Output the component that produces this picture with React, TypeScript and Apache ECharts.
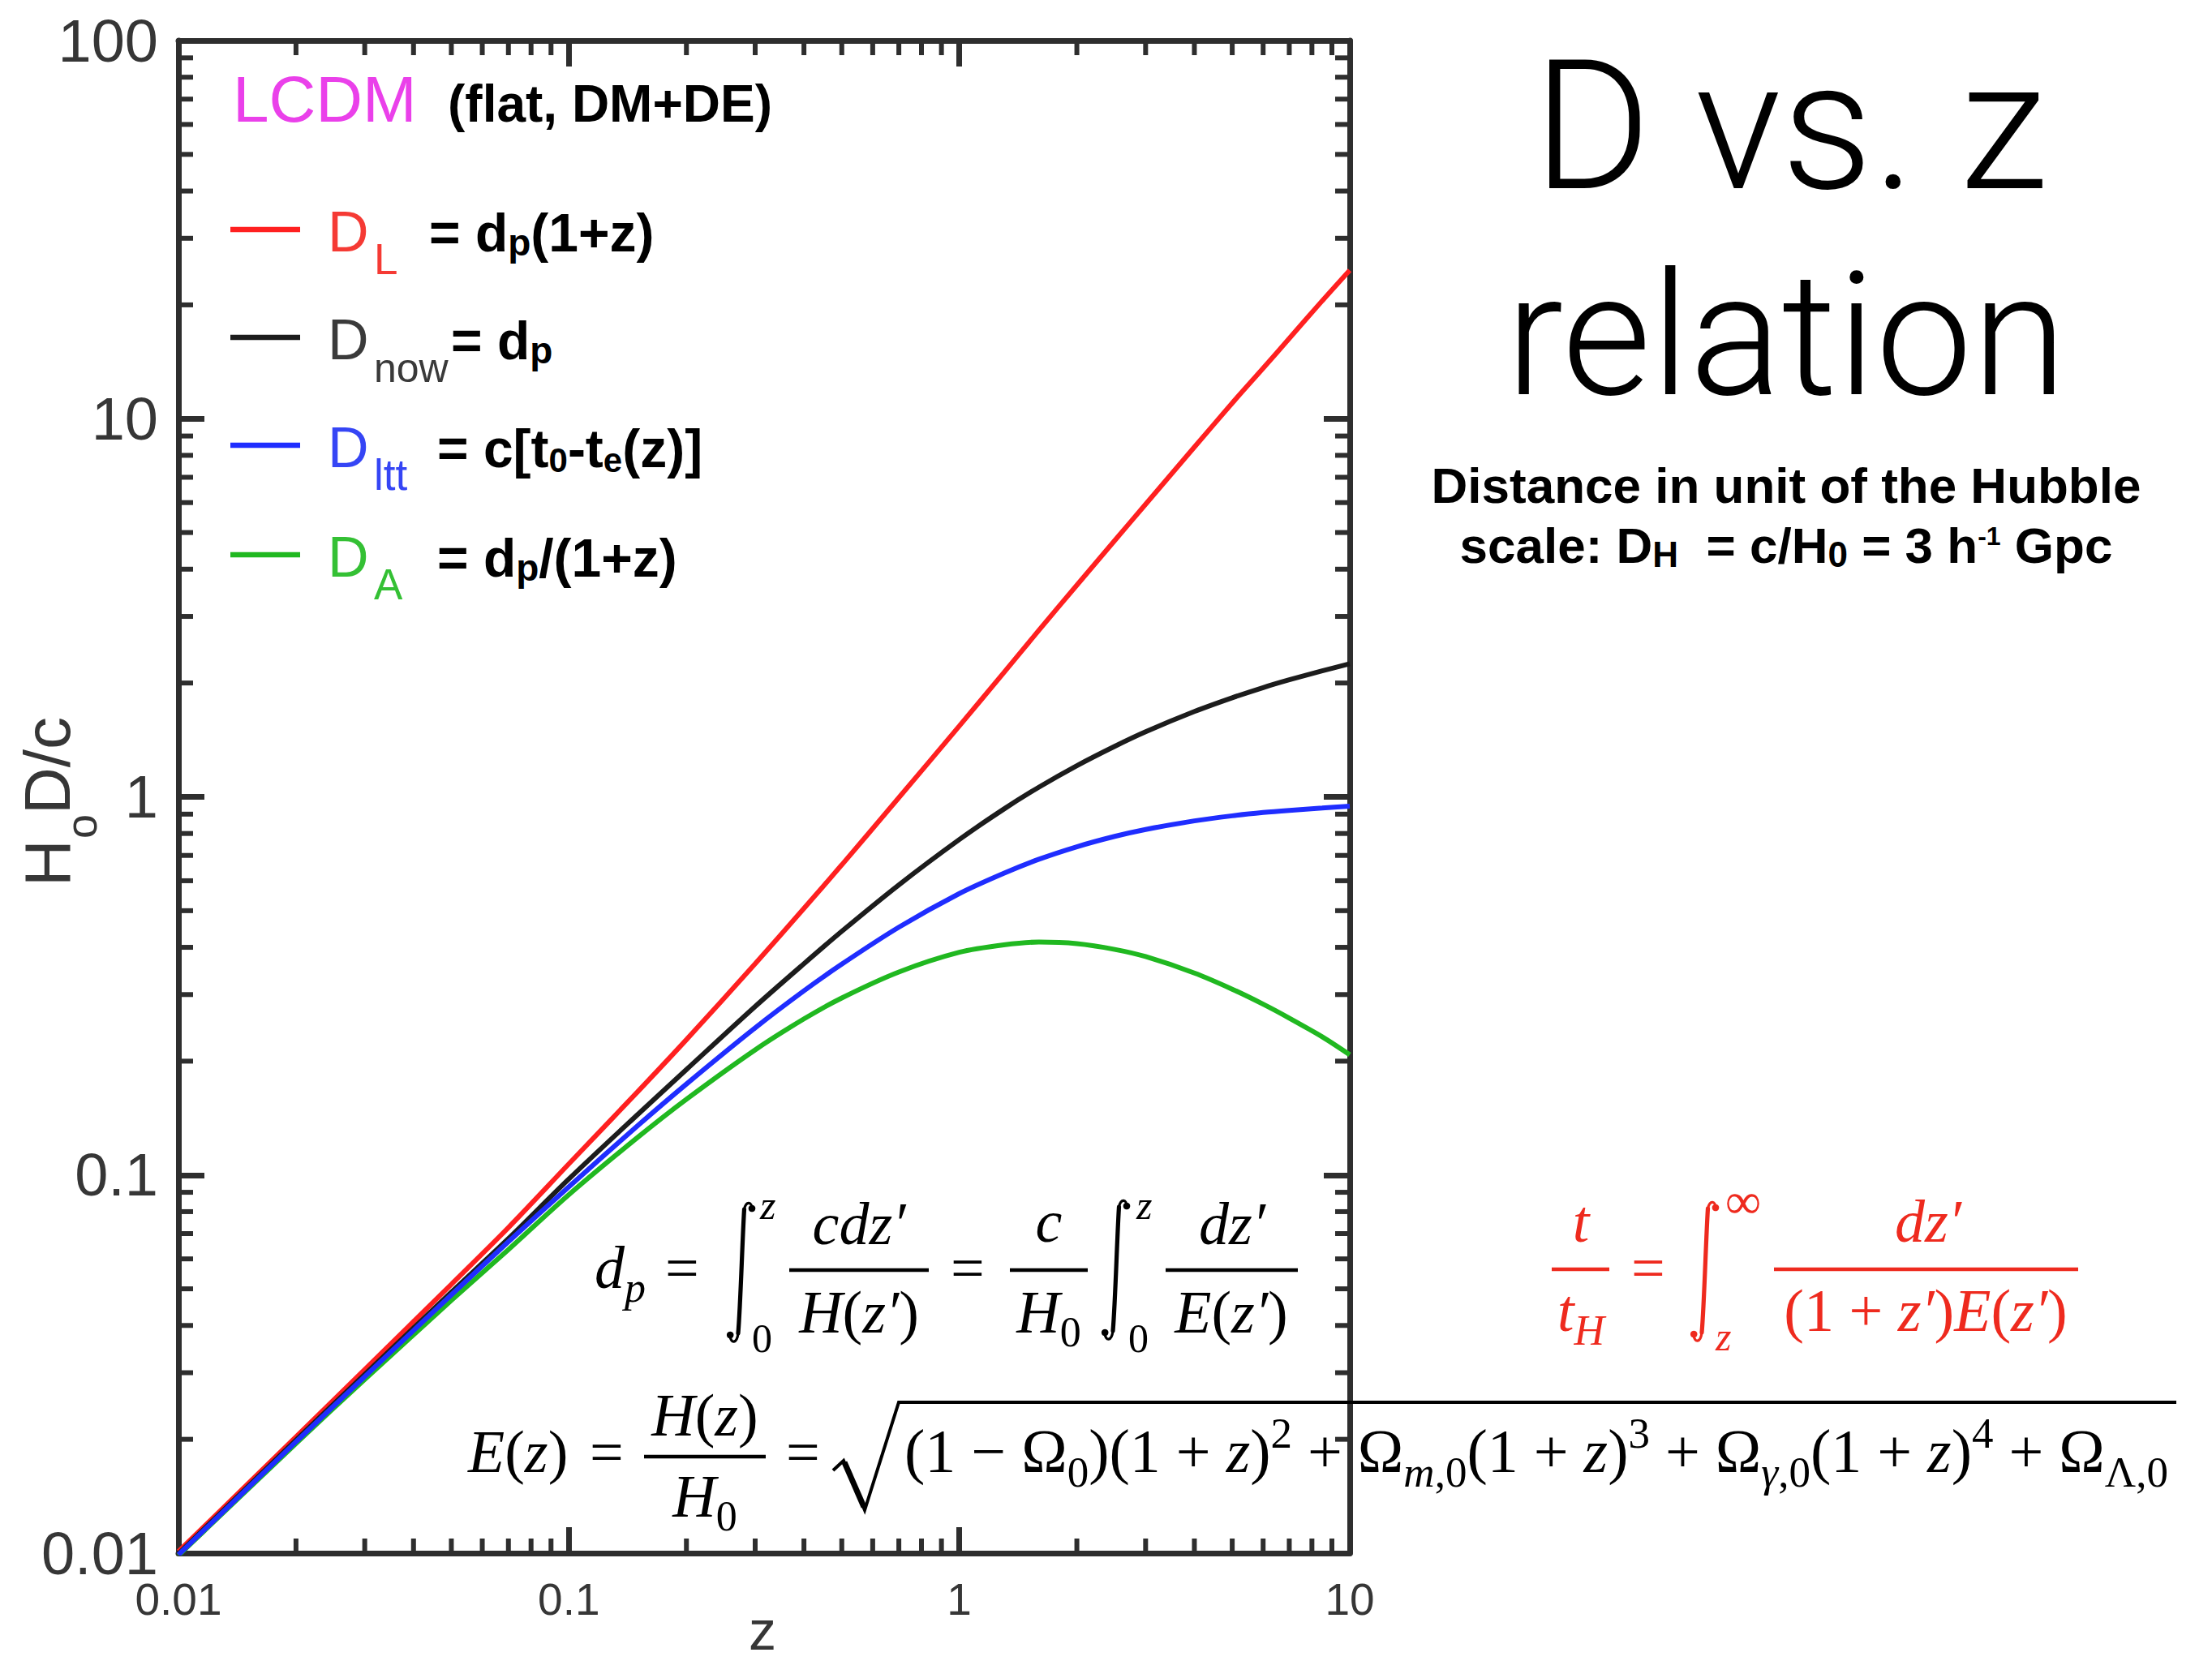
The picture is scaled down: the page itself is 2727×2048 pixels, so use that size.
import React, { useEffect, useRef } from 'react';
import * as echarts from 'echarts';

// ---------- data ----------
const zValues = [0.01, 0.02, 0.03, 0.05, 0.07, 0.1, 0.15, 0.2, 0.3, 0.4, 0.5, 0.7, 1, 1.3, 1.6, 2, 2.5, 3, 4, 5, 6, 7, 8.5, 10];
const dLum = [0.0101, 0.0203, 0.0306, 0.0514, 0.0726, 0.107, 0.166, 0.228, 0.362, 0.507, 0.661, 0.995, 1.54, 2.13, 2.76, 3.63, 4.76, 5.94, 8.41, 11.0, 13.6, 16.3, 20.5, 24.7];
const dNow = [0.00996, 0.0199, 0.0297, 0.049, 0.0679, 0.0976, 0.1445, 0.19, 0.279, 0.362, 0.441, 0.585, 0.771, 0.928, 1.061, 1.209, 1.36, 1.486, 1.681, 1.828, 1.945, 2.039, 2.154, 2.249];
const dLtt = [0.0099, 0.0197, 0.0293, 0.0482, 0.0666, 0.0931, 0.135, 0.174, 0.245, 0.307, 0.361, 0.452, 0.555, 0.628, 0.684, 0.738, 0.786, 0.82, 0.864, 0.891, 0.909, 0.921, 0.934, 0.945];
const dAng = [0.00986, 0.0195, 0.0288, 0.0466, 0.0635, 0.0887, 0.1257, 0.1586, 0.2143, 0.2587, 0.2939, 0.3442, 0.388, 0.406, 0.413, 0.409, 0.395, 0.378, 0.342, 0.31, 0.283, 0.26, 0.232, 0.208];

const xTickLabels = ['0.01', '0.1', '1', '10'];
const yTickLabels = ['0.01', '0.1', '1', '10', '100'];
const xMinorTicks = [0.02, 0.03, 0.04, 0.05, 0.06, 0.07, 0.08, 0.09, 0.2, 0.3, 0.4, 0.5, 0.6, 0.7, 0.8, 0.9, 2, 3, 4, 5, 6, 7, 8, 9];
const yMinorTicks = [0.02, 0.03, 0.04, 0.05, 0.06, 0.07, 0.08, 0.09, 0.2, 0.3, 0.4, 0.5, 0.6, 0.7, 0.8, 0.9, 2, 3, 4, 5, 6, 7, 8, 9, 20, 30, 40, 50, 60, 70, 80, 90];
const X_MIN = 0.01, X_MAX = 10, Y_MIN = 0.01, Y_MAX = 100;

const seriesColors = { L: '#ff2020', now: '#1c1c1c', ltt: '#1f2dff', A: '#20b820' };

// ---------- styling helpers ----------
const SANS = '"Liberation Sans", Arial, Helvetica, sans-serif';
const SERIF = '"Liberation Serif", "Times New Roman", Times, serif';
const AX = '#2e2e2e';
const LBL = '#363636';

function T(text: string, x: number, base: number, size: number, o: any = {}) {
  const fam = o.family || SANS;
  const k = fam === SERIF ? 0.34 : 0.35;
  return {
    type: 'text', x, y: base - k * size, silent: true, z: 100,
    style: {
      text, fontSize: size, fontFamily: fam, fontWeight: o.weight || 'normal',
      fontStyle: o.italic ? 'italic' : 'normal', fill: o.color || '#000',
      align: o.align || 'left', verticalAlign: 'middle',
    },
  };
}

function mathRich(c: string, F: number) {
  const S = Math.round(F * 0.7);
  const sub = 0.34 * (F - S) + 0.235 * F;
  const sup = 0.39 * F - 0.34 * (F - S);
  const b = { fontFamily: SERIF, fill: c, lineHeight: 160 };
  return {
    n: { ...b, fontSize: F },
    i: { ...b, fontSize: F, fontStyle: 'italic' },
    sb: { ...b, fontSize: S, padding: [2 * sub, 0, 0, 0] },
    sbi: { ...b, fontSize: S, fontStyle: 'italic', padding: [2 * sub, 0, 0, 0] },
    sp: { ...b, fontSize: S, padding: [0, 0, 2 * sup, 0] },
  };
}

function R(text: string, x: number, base: number, rich: any, F: number, align = 'left', k = 0.34) {
  return {
    type: 'text', x, y: base - k * F, silent: true, z: 100,
    style: { text, rich, align, verticalAlign: 'middle', lineHeight: 160, fontSize: F, fontFamily: SERIF },
  };
}

function bar(x1: number, x2: number, y: number, c: string) {
  return { type: 'line', silent: true, z: 100, shape: { x1, y1: y, x2, y2: y }, style: { stroke: c, lineWidth: 4.5 } };
}

function integral(x: number, y: number, c: string) {
  const st = (w: number) => ({ stroke: c, lineWidth: w, fill: null, lineCap: 'round' });
  return {
    type: 'group', x, y, silent: true, z: 100,
    children: [
      { type: 'bezierCurve', shape: { x1: 31, y1: 9, cpx1: 31, cpy1: 1, cpx2: 24, cpy2: -1, x2: 21.5, y2: 10 }, style: st(3.2) },
      { type: 'bezierCurve', shape: { x1: 21.5, y1: 10, cpx1: 19, cpy1: 50, cpx2: 17, cpy2: 128, x2: 14, y2: 163 }, style: st(5.2) },
      { type: 'bezierCurve', shape: { x1: 14, y1: 163, cpx1: 12.5, cpy1: 176, cpx2: 5, cpy2: 176, x2: 4, y2: 166 }, style: st(3.2) },
      { type: 'circle', shape: { cx: 31, cy: 9, r: 4.3 }, style: { fill: c } },
      { type: 'circle', shape: { cx: 4.2, cy: 165, r: 4.3 }, style: { fill: c } },
    ],
  };
}

function legendRich() {
  const M = 66;
  const b = { fontFamily: SANS, fontWeight: 'bold', fill: '#000', lineHeight: 120 };
  return {
    M,
    rich: {
      b: { ...b, fontSize: M },
      s: { ...b, fontSize: 46, padding: [2 * (0.35 * (M - 46) + 5), 0, 0, 0] },
      t: { ...b, fontSize: 42, padding: [2 * (0.35 * (M - 42) + 6), 0, 0, 0] },
    },
  };
}

function buildGraphics() {
  const g: any[] = [];
  const F = 74;
  const mB = mathRich('#000', F);
  const mB2 = mathRich('#000', 76);
  const RED = '#ee2a1e';
  const mR = mathRich(RED, F);

  // ---- legend block ----
  g.push(T('LCDM', 287, 150, 80, { color: '#ea40ea' }));
  g.push(T('(flat, DM+DE)', 552, 150, 64, { weight: 'bold' }));

  const lr = legendRich();
  const legendRows = [
    { c: '#f53a34', lc: seriesColors.L, base: 310, sub: 'L', subSize: 53, rhs: '{b|= d}{s|p}{b|(1+z)}', rx: 529 },
    { c: '#3a3a3a', lc: seriesColors.now, base: 443, sub: 'now', subSize: 50, rhs: '{b|= d}{s|p}', rx: 556 },
    { c: '#3545f5', lc: seriesColors.ltt, base: 576, sub: 'ltt', subSize: 53, rhs: '{b|= c[t}{t|0}{b|-t}{t|e}{b|(z)]}', rx: 539 },
    { c: '#34c034', lc: seriesColors.A, base: 711, sub: 'A', subSize: 53, rhs: '{b|= d}{s|p}{b|/(1+z)}', rx: 539 },
  ];
  legendRows.forEach((r) => {
    g.push({ type: 'line', silent: true, z: 100, shape: { x1: 284, y1: r.base - 27, x2: 370, y2: r.base - 27 }, style: { stroke: r.lc, lineWidth: 6.5 } });
    g.push(T('D', 404, r.base, 70, { color: r.c }));
    g.push(T(r.sub, 461, r.base + 28, r.subSize, { color: r.c }));
    g.push({
      type: 'text', x: r.rx, y: r.base - 0.35 * lr.M, silent: true, z: 100,
      style: { text: r.rhs, rich: lr.rich, align: 'left', verticalAlign: 'middle', lineHeight: 120, fontSize: lr.M, fontFamily: SANS },
    });
  });

  // ---- title block ----
  const titleFont = 'Roboto, "Liberation Sans", sans-serif';
  g.push({ type: 'text', x: 2207, y: 236 - 0.36 * 222, silent: true, z: 100, style: { text: 'D vs. z', fontSize: 222, fontFamily: titleFont, fontWeight: 300, fill: '#000', align: 'center', verticalAlign: 'middle' } });
  g.push({ type: 'text', x: 2202, y: 490 - 0.36 * 212, silent: true, z: 100, style: { text: 'relation', fontSize: 212, fontFamily: titleFont, fontWeight: 300, fill: '#000', align: 'center', verticalAlign: 'middle' } });
  g.push(T('Distance in unit of the Hubble', 2202, 620, 62, { weight: 'bold', align: 'center' }));
  const sF = 62;
  const sb = { fontFamily: SANS, fontWeight: 'bold', fill: '#000', lineHeight: 120 };
  const subRich = {
    b: { ...sb, fontSize: sF },
    s: { ...sb, fontSize: 44, padding: [2 * (0.35 * (sF - 44) + 5), 0, 0, 0] },
    p: { ...sb, fontSize: 32, padding: [0, 0, 2 * (22 - 0.35 * (sF - 32)), 0] },
  };
  g.push({
    type: 'text', x: 2202, y: 694 - 0.35 * sF, silent: true, z: 100,
    style: { text: '{b|scale: D}{s|H}{b|  = c/H}{s|0}{b| = 3 h}{p|-1}{b| Gpc}', rich: subRich, align: 'center', verticalAlign: 'middle', lineHeight: 120, fontSize: sF, fontFamily: SANS },
  });

  // ---- axis titles ----
  g.push(T('z', 940, 2034, 68, { color: LBL, align: 'center' }));
  g.push({
    type: 'group', x: 86, y: 1093, rotation: Math.PI / 2, silent: true, z: 100,
    children: [
      { type: 'text', x: 0, y: -28, style: { text: 'H', fontSize: 80, fontFamily: SANS, fill: LBL, align: 'left', verticalAlign: 'middle' } },
      { type: 'text', x: 59, y: 14, style: { text: 'o', fontSize: 54, fontFamily: SANS, fill: LBL, align: 'left', verticalAlign: 'middle' } },
      { type: 'text', x: 89, y: -28, style: { text: 'D/c', fontSize: 80, fontFamily: SANS, fill: LBL, align: 'left', verticalAlign: 'middle' } },
    ],
  });

  // ---- formula 1: d_p = ∫ c dz'/H(z') = c/H0 ∫ dz'/E(z') ----
  g.push(R('{i|d}{sbi|p}', 733, 1588, mB, F));
  g.push(R('{n|=}', 820, 1588, mB, F));
  g.push(integral(896, 1481, '#000'));
  g.push(T('z', 937, 1503, 50, { family: SERIF, italic: true }));
  g.push(T('0', 927, 1667, 50, { family: SERIF }));
  g.push(bar(973, 1145, 1566, '#000'));
  g.push(R('{i|cdz′}', 1059, 1534, mB, F, 'center'));
  g.push(R('{i|H}{n|(}{i|z′}{n|)}', 1059, 1643, mB, F, 'center'));
  g.push(R('{n|=}', 1172, 1588, mB, F));
  g.push(bar(1245, 1341, 1566, '#000'));
  g.push(R('{i|c}', 1293, 1531, mB, F, 'center'));
  g.push(R('{i|H}{sb|0}', 1293, 1643, mB, F, 'center'));
  g.push(integral(1358, 1478, '#000'));
  g.push(T('z', 1401, 1503, 50, { family: SERIF, italic: true }));
  g.push(T('0', 1391, 1667, 50, { family: SERIF }));
  g.push(bar(1437, 1600, 1566, '#000'));
  g.push(R('{i|dz′}', 1519, 1534, mB, F, 'center'));
  g.push(R('{i|E}{n|(}{i|z′}{n|)}', 1518, 1643, mB, F, 'center'));

  // ---- formula 2: E(z) = H(z)/H0 = sqrt(...) ----
  g.push(R('{i|E}{n|(}{i|z}{n|)}', 577, 1815, mB, F));
  g.push(R('{n|=}', 727, 1815, mB, F));
  g.push(bar(794, 944, 1796, '#000'));
  g.push(R('{i|H}{n|(}{i|z}{n|)}', 869, 1770, mB, F, 'center'));
  g.push(R('{i|H}{sb|0}', 869, 1870, mB, F, 'center'));
  g.push(R('{n|=}', 969, 1815, mB, F));
  g.push({ type: 'polyline', silent: true, z: 100, shape: { points: [[1027, 1813], [1040, 1801], [1066, 1862], [1108, 1729], [2683, 1729]] }, style: { stroke: '#000', lineWidth: 4, fill: null, lineJoin: 'miter' } });
  g.push({ type: 'line', silent: true, z: 100, shape: { x1: 1041, y1: 1803, x2: 1065, y2: 1858 }, style: { stroke: '#000', lineWidth: 7 } });
  g.push(R('{n|(1 − Ω}{sb|0}{n|)(1 + }{i|z}{n|)}{sp|2}{n| + Ω}{sbi|m}{sb|,0}{n|(1 + }{i|z}{n|)}{sp|3}{n| + Ω}{sbi|γ}{sb|,0}{n|(1 + }{i|z}{n|)}{sp|4}{n| + Ω}{sb|Λ,0}', 1115, 1815, mB2, 76));

  // ---- formula 3 (red): t/t_H = ∫ dz'/((1+z')E(z')) ----
  g.push(R('{i|t}', 1949, 1531, mR, F, 'center'));
  g.push(bar(1913, 1984, 1565, RED));
  g.push(R('{i|t}{sbi|H}', 1949, 1641, mR, F, 'center'));
  g.push(R('{n|=}', 2011, 1588, mR, F));
  g.push(integral(2084, 1480, RED));
  g.push(T('∞', 2127, 1502, 62, { family: SERIF, color: RED }));
  g.push(T('z', 2115, 1665, 50, { family: SERIF, italic: true, color: RED }));
  g.push(bar(2187, 2562, 1565, RED));
  g.push(R('{i|dz′}', 2377, 1531, mR, F, 'center'));
  g.push(R('{n|(1 + }{i|z′}{n|)}{i|E}{n|(}{i|z′}{n|)}', 2374, 1641, mR, F, 'center'));

  return g;
}

function App() {
  const ref = useRef<HTMLDivElement>(null);
  useEffect(() => {
    if (!ref.current) return;
    const chart = echarts.init(ref.current, null, { renderer: 'svg' });
    const xFmt = (v: number) => xTickLabels[Math.round(Math.log10(v)) + 2] ?? '';
    const yFmt = (v: number) => yTickLabels[Math.round(Math.log10(v)) + 2] ?? '';
    const axisCommon = (name: 'x' | 'y', pos: string, labels: boolean) => ({
      type: 'log', logBase: 10,
      min: name === 'x' ? X_MIN : Y_MIN, max: name === 'x' ? X_MAX : Y_MAX,
      position: pos,
      axisLine: { show: true, onZero: false, lineStyle: { color: AX, width: 7 } },
      axisTick: { show: true, inside: true, length: 32, lineStyle: { color: AX, width: 7 } },
      axisLabel: labels
        ? (name === 'x'
          ? { show: true, margin: 29, fontSize: 55, color: LBL, fontFamily: SANS, formatter: xFmt, showMinLabel: true, showMaxLabel: true }
          : { show: true, margin: 25, fontSize: 74, color: LBL, fontFamily: SANS, formatter: yFmt, showMinLabel: true, showMaxLabel: true })
        : { show: false },
      splitLine: { show: false },
      minorTick: { show: false },
      minorSplitLine: { show: false },
    });
    const minorLen = 18;
    const minorStyle = { stroke: AX, lineWidth: 6 };
    const makeLine = (data: number[], color: string) => ({
      type: 'line', xAxisIndex: 0, yAxisIndex: 0,
      data: zValues.map((z, i) => [z, data[i]]),
      showSymbol: false, smooth: 0.3,
      lineStyle: { color, width: 6 },
      itemStyle: { color },
    });
    chart.setOption({
      animation: false,
      backgroundColor: '#ffffff',
      grid: { left: 220, right: 1063, top: 50, bottom: 133, containLabel: false },
      xAxis: [axisCommon('x', 'bottom', true), axisCommon('x', 'top', false)],
      yAxis: [axisCommon('y', 'left', true), axisCommon('y', 'right', false)],
      series: [
        makeLine(dLum, seriesColors.L),
        makeLine(dNow, seriesColors.now),
        makeLine(dAng, seriesColors.A),
        makeLine(dLtt, seriesColors.ltt),
        {
          type: 'custom', xAxisIndex: 0, yAxisIndex: 0, silent: true, clip: false,
          data: xMinorTicks.map((v) => [v, Y_MIN]),
          renderItem: (_p: any, api: any) => {
            const v = api.value(0);
            const b = api.coord([v, Y_MIN]);
            const t = api.coord([v, Y_MAX]);
            return {
              type: 'group', children: [
                { type: 'line', shape: { x1: b[0], y1: b[1], x2: b[0], y2: b[1] - minorLen }, style: minorStyle },
                { type: 'line', shape: { x1: t[0], y1: t[1], x2: t[0], y2: t[1] + minorLen }, style: minorStyle },
              ],
            };
          },
        },
        {
          type: 'custom', xAxisIndex: 0, yAxisIndex: 0, silent: true, clip: false,
          data: yMinorTicks.map((v) => [X_MIN, v]),
          renderItem: (_p: any, api: any) => {
            const v = api.value(1);
            const l = api.coord([X_MIN, v]);
            const r = api.coord([X_MAX, v]);
            return {
              type: 'group', children: [
                { type: 'line', shape: { x1: l[0], y1: l[1], x2: l[0] + minorLen, y2: l[1] }, style: minorStyle },
                { type: 'line', shape: { x1: r[0], y1: r[1], x2: r[0] - minorLen, y2: r[1] }, style: minorStyle },
              ],
            };
          },
        },
      ],
      graphic: buildGraphics(),
    });
    return () => chart.dispose();
  }, []);
  return <div ref={ref} style={{ position: 'absolute', left: 0, top: 0, width: 2727, height: 2048, background: '#fff' }} />;
}

export default App;
